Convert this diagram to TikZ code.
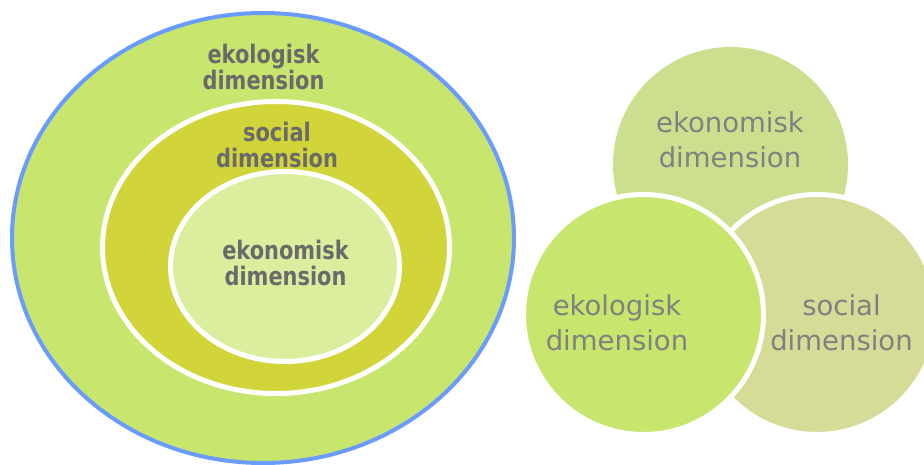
\documentclass[tikz,border=0pt]{standalone}
\usepackage{fontspec}
\usetikzlibrary{shapes.geometric}
\newfontfamily\lblbold[FakeStretch=0.82]{DejaVu Sans Bold}
\newfontfamily\lblreg{DejaVu Sans}
\definecolor{outerfill}{HTML}{C8E66E}
\definecolor{midfill}{HTML}{D2D53A}
\definecolor{innerfill}{HTML}{DAEE9E}
\definecolor{ringblue}{HTML}{6A9BFF}
\definecolor{topfill}{HTML}{CCDF8F}
\definecolor{ekofill}{HTML}{C8E66E}
\definecolor{socfill}{HTML}{D6DC98}
\definecolor{boldgray}{HTML}{6A6A6A}
\definecolor{reggray}{HTML}{808080}
\begin{document}
\begin{tikzpicture}[x=1pt,y=-1pt,
  ring/.style={ellipse,inner sep=0pt,outer sep=0pt},
  disc/.style={circle,inner sep=0pt,outer sep=0pt},
  boldlbl/.style={font=\lblbold\fontsize{25.5}{26}\selectfont, text=boldgray, align=center, inner sep=0pt, anchor=base},
  reglbl/.style={font=\lblreg\fontsize{27.5}{35}\selectfont, text=reggray, align=center, inner sep=0pt, anchor=base}]
\useasboundingbox (0,0) rectangle (924,465);
% left: nested ellipses
\node[ring, fill=outerfill, draw=ringblue, line width=4pt, minimum width=502pt, minimum height=450pt] (ekoL) at (263,238) {};
\node[ring, fill=midfill, draw=white, line width=5pt, minimum width=347pt, minimum height=292pt] (socL) at (276,247.5) {};
\node[ring, fill=innerfill, draw=white, line width=5pt, minimum width=229pt, minimum height=190pt] (ekonL) at (285,266.5) {};
% right: three circles
\node[disc, fill=topfill, minimum size=235pt] (ekonR) at (730.5,164.5) {};
\node[disc, fill=socfill, draw=white, line width=5pt, minimum size=240pt] (socR) at (817,314.5) {};
\node[disc, fill=ekofill, draw=white, line width=5pt, minimum size=240pt] (ekoR) at (643.5,314.5) {};
% labels (anchor = baseline of the last line)
\node[boldlbl] (t1) at (263.5,89.5) {ekologisk\\dimension};
\node[boldlbl] (t2) at (277,167.5) {social\\dimension};
\node[boldlbl] (t3) at (285.5,285) {ekonomisk\\dimension};
\node[reglbl] (t4) at (730,168) {ekonomisk\\dimension};
\node[reglbl] (t5) at (617,350) {ekologisk\\dimension};
\node[reglbl] (t6) at (841.5,350) {social\\dimension};
\end{tikzpicture}
\end{document}
